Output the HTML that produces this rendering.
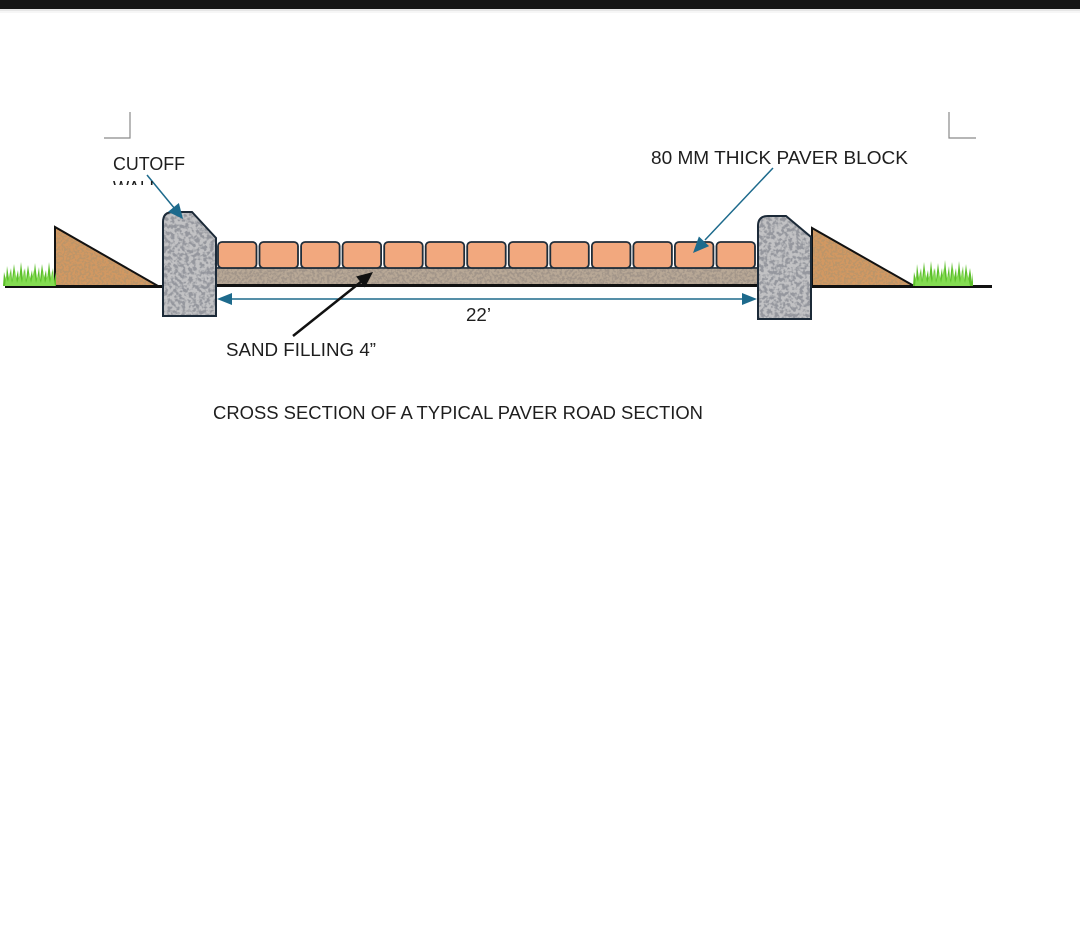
<!DOCTYPE html>
<html><head><meta charset="utf-8"><style>
html,body{margin:0;padding:0;background:#fff;}
body{width:1080px;height:949px;overflow:hidden;position:relative;}
svg{position:absolute;left:0;top:0;}
</style></head><body>
<svg width="1080" height="949" viewBox="0 0 1080 949" xmlns="http://www.w3.org/2000/svg">
<defs>
<filter id="fg" x="0%" y="0%" width="100%" height="100%">
<feTurbulence type="fractalNoise" baseFrequency="0.28" numOctaves="2" seed="5" result="n"/>
<feColorMatrix in="n" type="matrix" values="0 0 0 0 0.30  0 0 0 0 0.31  0 0 0 0 0.34  5 0 0 0 -2.1"/>
</filter>
<filter id="fs" x="0%" y="0%" width="100%" height="100%">
<feTurbulence type="fractalNoise" baseFrequency="0.4" numOctaves="2" seed="9" result="n"/>
<feColorMatrix in="n" type="matrix" values="0 0 0 0 0.36  0 0 0 0 0.30  0 0 0 0 0.25  5 0 0 0 -2.1"/>
</filter>
<filter id="fb" x="0%" y="0%" width="100%" height="100%">
<feTurbulence type="fractalNoise" baseFrequency="0.45" numOctaves="2" seed="2" result="n"/>
<feColorMatrix in="n" type="matrix" values="0 0 0 0 0.50  0 0 0 0 0.30  0 0 0 0 0.14  6 0 0 0 -2.6"/>
</filter>
<clipPath id="cwl"><path d="M163,222 Q163,212 173,212 L192,212 L216,238 L216,316 L163,316 Z"/></clipPath>
<clipPath id="cwr"><path d="M758,226 Q758,216 768,216 L786,216 L811,237 L811,319 L758,319 Z"/></clipPath>
<clipPath id="ctl"><path d="M55,227 L55,286 L158,286 Z"/></clipPath>
<clipPath id="ctr"><path d="M812,228 L812,286 L914,286 Z"/></clipPath>
<clipPath id="cwall"><rect x="100" y="150" width="120" height="35"/></clipPath>
</defs>

<!-- top bar -->
<rect x="0" y="0" width="1080" height="9" fill="#151515"/>
<rect x="0" y="9" width="1080" height="2" fill="#e6e6e6"/>
<rect x="0" y="11" width="1080" height="2" fill="#f6f6f6"/>

<!-- corner marks -->
<path d="M130,112 L130,138 L104,138" fill="none" stroke="#8a8a8a" stroke-width="1.2"/>
<path d="M949,112 L949,138 L976,138" fill="none" stroke="#8a8a8a" stroke-width="1.2"/>

<!-- ground lines -->
<line x1="5" y1="286.5" x2="165" y2="286.5" stroke="#111" stroke-width="3"/>
<line x1="810" y1="286.5" x2="992" y2="286.5" stroke="#111" stroke-width="3"/>
<line x1="163" y1="285.5" x2="811" y2="285.5" stroke="#111" stroke-width="3"/>

<!-- triangles -->
<path d="M55,227 L55,286 L158,286 Z" fill="#d29862"/>
<rect x="55" y="227" width="103" height="59" fill="#000" filter="url(#fb)" clip-path="url(#ctl)"/>
<path d="M55,227 L55,286 L158,286 Z" fill="none" stroke="#111" stroke-width="2"/>
<path d="M812,228 L812,286 L914,286 Z" fill="#d29862"/>
<rect x="812" y="228" width="102" height="58" fill="#000" filter="url(#fb)" clip-path="url(#ctr)"/>
<path d="M812,228 L812,286 L914,286 Z" fill="none" stroke="#111" stroke-width="2"/>

<!-- grass -->
<polygon fill="#5cbf2a" points="3,286 4,272 6,280 7,266 9,279 11,268 12,280 14,264 16,279 18,270 19,281 21,262 23,279 25,268 26,280 28,265 30,279 32,270 33,281 35,263 37,279 39,267 40,280 42,264 44,278 46,270 47,281 49,262 51,279 53,268 54,281 56,272 56,286"/>
<polygon fill="#84dc52" points="5,286 6,276 8,282 10,272 12,283 15,270 17,283 20,274 22,283 24,269 26,283 29,273 31,283 34,270 36,283 38,275 41,283 43,270 45,283 48,274 50,283 52,271 55,286"/>
<polygon fill="#5cbf2a" points="913,286 914,272 916,280 917,264 919,279 921,268 922,280 924,262 926,279 928,270 929,281 931,261 933,279 935,268 936,280 938,263 940,279 942,268 943,281 945,260 947,279 949,266 950,280 952,262 954,278 956,268 957,281 959,261 961,279 963,266 964,281 966,264 968,280 970,268 972,282 973,272 973,286"/>
<polygon fill="#84dc52" points="915,286 916,276 918,282 920,272 922,283 925,270 927,283 930,274 932,283 934,268 936,283 939,272 941,283 944,268 946,283 948,274 951,283 953,268 955,283 958,273 960,283 962,270 965,283 967,272 970,286"/>

<!-- sand layer -->
<rect x="217" y="267" width="541" height="17" fill="#b8a896"/>
<rect x="217" y="267" width="541" height="17" fill="#000" filter="url(#fs)"/>
<line x1="217" y1="268" x2="758" y2="268" stroke="#1f2d3a" stroke-width="1.5"/>

<!-- paver blocks -->
<g fill="#f2a87e" stroke="#1f2d3a" stroke-width="1.8">
<rect x="218.0" y="242" width="38.5" height="26" rx="4"/>
<rect x="259.5" y="242" width="38.5" height="26" rx="4"/>
<rect x="301.1" y="242" width="38.5" height="26" rx="4"/>
<rect x="342.6" y="242" width="38.5" height="26" rx="4"/>
<rect x="384.2" y="242" width="38.5" height="26" rx="4"/>
<rect x="425.7" y="242" width="38.5" height="26" rx="4"/>
<rect x="467.2" y="242" width="38.5" height="26" rx="4"/>
<rect x="508.8" y="242" width="38.5" height="26" rx="4"/>
<rect x="550.3" y="242" width="38.5" height="26" rx="4"/>
<rect x="591.9" y="242" width="38.5" height="26" rx="4"/>
<rect x="633.4" y="242" width="38.5" height="26" rx="4"/>
<rect x="674.9" y="242" width="38.5" height="26" rx="4"/>
<rect x="716.5" y="242" width="38.5" height="26" rx="4"/>
</g>

<!-- walls -->
<path d="M163,222 Q163,212 173,212 L192,212 L216,238 L216,316 L163,316 Z" fill="#c2c2c4"/>
<rect x="163" y="212" width="53" height="104" fill="#000" filter="url(#fg)" clip-path="url(#cwl)"/>
<path d="M163,222 Q163,212 173,212 L192,212 L216,238 L216,316 L163,316 Z" fill="none" stroke="#1c2a38" stroke-width="2"/>
<path d="M758,226 Q758,216 768,216 L786,216 L811,237 L811,319 L758,319 Z" fill="#c2c2c4"/>
<rect x="758" y="216" width="53" height="103" fill="#000" filter="url(#fg)" clip-path="url(#cwr)"/>
<path d="M758,226 Q758,216 768,216 L786,216 L811,237 L811,319 L758,319 Z" fill="none" stroke="#1c2a38" stroke-width="2"/>

<!-- dimension line -->
<line x1="230" y1="299" x2="744" y2="299" stroke="#1d6a8c" stroke-width="1.5"/>
<polygon points="217,299 232,293 232,305" fill="#1d6a8c"/>
<polygon points="757,299 742,293 742,305" fill="#1d6a8c"/>

<!-- cutoff wall arrow -->
<line x1="147" y1="175" x2="175" y2="209" stroke="#1d6a8c" stroke-width="1.5"/>
<polygon points="183,219 168.1,211.8 178.9,203.0" fill="#1d6a8c"/>

<!-- paver arrow -->
<line x1="773" y1="168" x2="705" y2="240" stroke="#1d6a8c" stroke-width="1.5"/>
<polygon points="693,253 698.9,236.5 709.1,246.1" fill="#1d6a8c"/>

<!-- sand arrow -->
<line x1="293" y1="336" x2="362" y2="281" stroke="#111" stroke-width="2.5"/>
<polygon points="373,272 364.9,287.5 356.1,276.5" fill="#111"/>

<!-- text -->
<g font-family="Liberation Sans, Arial, sans-serif" font-size="18" fill="#1e1e1e">
<text x="113" y="170" textLength="72" lengthAdjust="spacingAndGlyphs">CUTOFF</text>
<text x="113" y="194" textLength="46" lengthAdjust="spacingAndGlyphs" clip-path="url(#cwall)">WALL</text>
<text x="651" y="164" textLength="257" lengthAdjust="spacingAndGlyphs">80 MM THICK PAVER BLOCK</text>
<text x="466" y="321" textLength="25" lengthAdjust="spacingAndGlyphs">22’</text>
<text x="226" y="356" textLength="150" lengthAdjust="spacingAndGlyphs">SAND FILLING 4”</text>
<text x="213" y="419" textLength="490" lengthAdjust="spacingAndGlyphs">CROSS SECTION OF A TYPICAL PAVER ROAD SECTION</text>
</g>
</svg>
</body></html>
